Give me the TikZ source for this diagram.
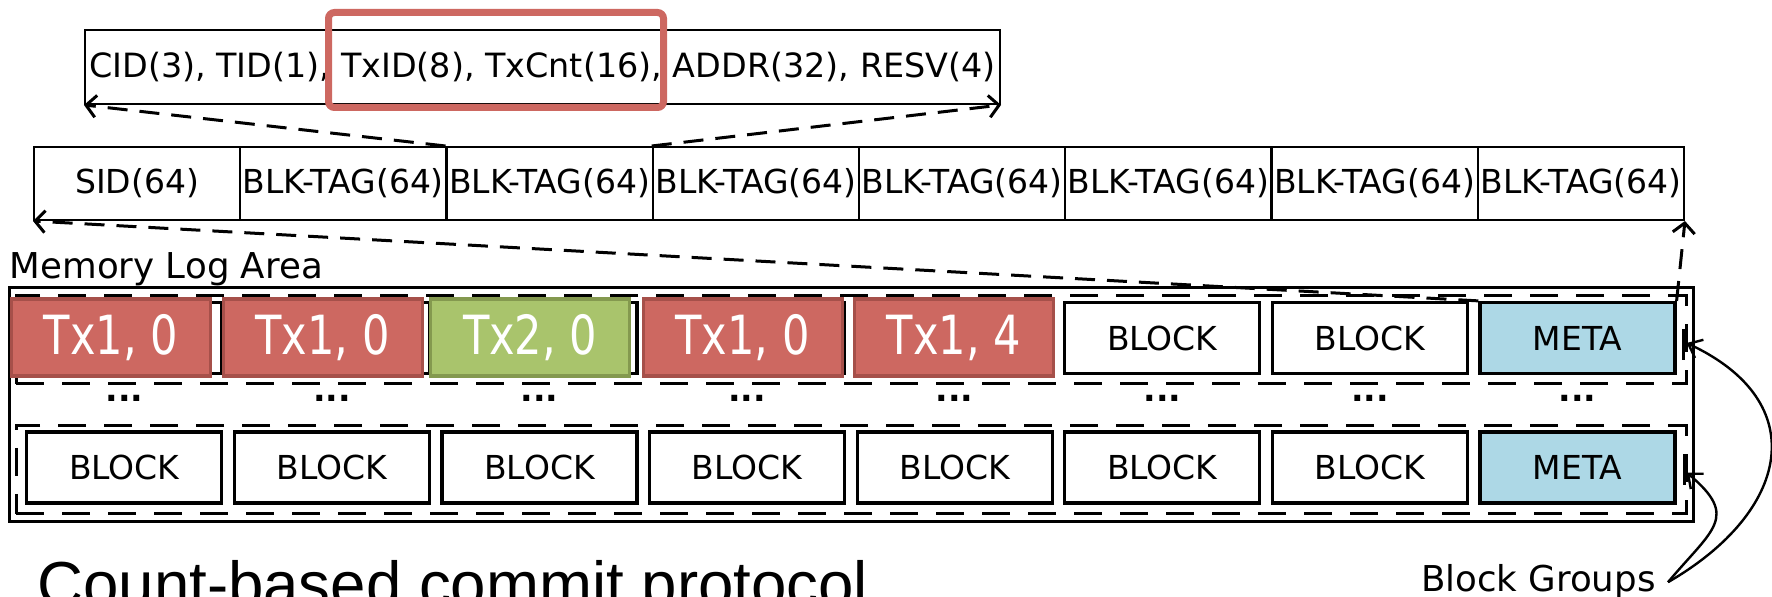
\documentclass[tikz,border=0pt]{standalone}
\usepackage{xcolor}
\usepackage{fontspec}
\setmainfont{DejaVu Sans}
\newfontfamily\txfont{DejaVu Sans}[FakeStretch=0.8]
\newfontfamily\titlefont{Liberation Sans}
\usepackage{tikz}
\usetikzlibrary{calc,positioning,arrows.meta}
\definecolor{txred}{HTML}{CD6861}
\definecolor{txredline}{HTML}{A6504A}
\definecolor{txgreen}{HTML}{A9C46C}
\definecolor{txgreenline}{HTML}{84994F}
\definecolor{metablue}{HTML}{ADD8E6}
\definecolor{hilite}{HTML}{CD6861}

\begin{document}
\begin{tikzpicture}[x=0.5pt,y=0.5pt,
  every node/.style={font=\fontsize{16.5}{18}\selectfont, inner sep=0pt},
  label text/.style={font=\fontsize{17.8}{20}\selectfont},
  field/.style={draw, line width=1pt, minimum width=103.1pt, minimum height=36.5pt},
  blk/.style={draw, line width=1.6pt, minimum width=97.5pt, minimum height=35.5pt},
  txblk/.style={draw=#1line, fill=#1, line width=1.6pt, minimum width=99.5pt, minimum height=38.5pt,
    text=white, font=\txfont\fontsize{27}{30}\selectfont},
  metablk/.style={blk, fill=metablue},
  group/.style={draw, line width=1.5pt, dash pattern=on 14pt off 9pt, minimum width=835pt, minimum height=44pt},
  conn/.style={line width=1.5pt, dash pattern=on 10pt off 6pt, -{Straight Barb[length=5pt,width=11pt]}},
  pointer/.style={line width=1.2pt, -{Straight Barb[length=6pt,width=10pt]}}]
  \useasboundingbox (0,0) rectangle (1772,-597);

  % entry layout
  \node[draw, line width=1pt, minimum width=457.5pt, minimum height=37pt, font=\fontsize{16.7}{18}\selectfont] (hdr) at (542.5,-67)
    {CID(3), TID(1), TxID(8), TxCnt(16), ADDR(32), RESV(4)};
  \node[draw=hilite, line width=3.5pt, rounded corners=3pt, minimum width=167.5pt, minimum height=47.5pt] (hl) at (496,-60) {};

  % meta block fields
  \node[field] (tag0) at (137.1,-183.5) {SID(64)};
  \foreach \i in {1,...,7}
    \node[field] (tag\i) at ({137.1+206.25*\i},-183.5) {BLK-TAG(64)};

  % memory log area
  \node[draw, line width=1.5pt, minimum width=842pt, minimum height=117pt] (area) at (851,-405) {};
  \node[label text, anchor=south west, xshift=1pt] (lbl) at (area.north west) {Memory Log Area};
  \node[group] (grpA) at (851,-340) {};
  \node[group] (grpB) at (851,-470) {};

  % first block group
  \foreach \i in {0,...,4}
    \node[blk] (slot\i) at ({124.3+207.6*\i},-338) {};
  \node[txblk=txred] (tx0) at (110.8,-337.5) {Tx1, 0};
  \node[txblk=txred] (tx1) at (322.6,-337.5) {Tx1, 0};
  \node[txblk=txgreen] (tx2) at (530.2,-337.5) {Tx2, 0};
  \node[txblk=txred] (tx3) at (742.6,-337.5) {Tx1, 0};
  \node[txblk=txred] (tx4) at (954.1,-337.5) {Tx1, 4};
  \node[blk] (topblk5) at (1162.3,-338) {BLOCK};
  \node[blk] (topblk6) at (1369.9,-338) {BLOCK};
  \node[metablk] (metaA) at (1577.5,-338) {META};

  \foreach \i in {0,...,7}
    \node (dots\i) at ({124.3+207.6*\i},-398) {\textbf{...}};

  % last block group
  \foreach \i in {0,...,6}
    \node[blk] (botblk\i) at ({124.3+207.6*\i},-467.5) {BLOCK};
  \node[metablk] (metaB) at (1577.5,-467.5) {META};

  % links
  \draw[conn] (tag2.north west) -- (hdr.south west);
  \draw[conn] (tag3.north west) -- (hdr.south east);
  \draw[conn] (metaA.north west) -- (tag0.south west);
  \draw[conn] (metaA.north east) -- (tag7.south east);

  % group pointers
  \node[label text, anchor=base east] (grp) at (1656,-592) {Block Groups};
  \draw[line width=1.5pt] ([xshift=3.5pt,yshift=4.5pt]metaA.east) -- ++(0,-31);
  \draw[line width=1.5pt] ([xshift=4pt,yshift=6.5pt]metaB.east) -- ++(0,-31);
  \draw[pointer] ([xshift=6pt]grp.east) to[out=30,in=-25,looseness=1.5] ([xshift=5pt,yshift=-2.5pt]metaA.east);
  \draw[pointer] ([xshift=6pt]grp.east) to[out=50,in=-40,looseness=1.6] ([xshift=5pt,yshift=-2.5pt]metaB.east);

  \node[anchor=base west, font=\titlefont\fontsize{31.8}{34}\selectfont] (ttl) at (37,-607)
    {Count-based commit protocol};
\end{tikzpicture}
\end{document}
